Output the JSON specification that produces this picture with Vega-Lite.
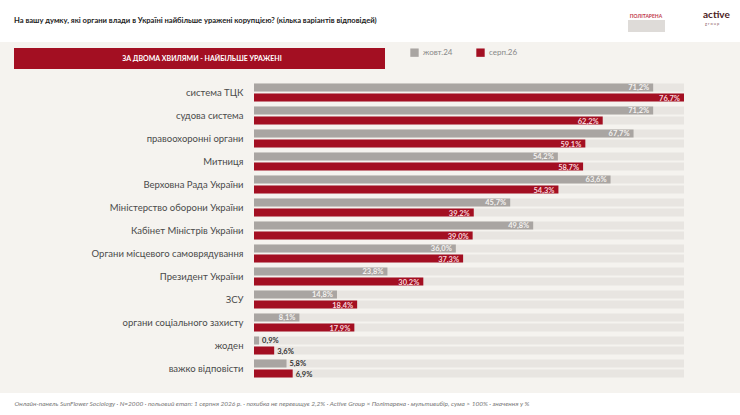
{
  "$schema": "https://vega.github.io/schema/vega-lite/v6.json",
  "autosize": "none",
  "padding": {"left": 254, "top": 81, "right": 56, "bottom": 35},
  "width": 430,
  "height": 299,
  "background": "#f5f3ef",
  "title": {
    "text": "На вашу думку, які органи влади в Україні найбільше уражені корупцією? (кілька варіантів відповідей)",
    "anchor": "start",
    "frame": "group",
    "dx": -240,
    "offset": -25,
    "font": "Lato",
    "fontSize": 7.6,
    "fontWeight": "bold",
    "color": "#222222"
  },
  "config": {
    "view": {"stroke": null},
    "font": "Lato"
  },
  "data": {
    "values": [
      {"org": "система ТЦК", "wave": "жовт.24", "value": 71.2},
      {"org": "система ТЦК", "wave": "серп.26", "value": 76.7},
      {"org": "судова система", "wave": "жовт.24", "value": 71.2},
      {"org": "судова система", "wave": "серп.26", "value": 62.2},
      {"org": "правоохоронні органи", "wave": "жовт.24", "value": 67.7},
      {"org": "правоохоронні органи", "wave": "серп.26", "value": 59.1},
      {"org": "Митниця", "wave": "жовт.24", "value": 54.2},
      {"org": "Митниця", "wave": "серп.26", "value": 58.7},
      {"org": "Верховна Рада України", "wave": "жовт.24", "value": 63.6},
      {"org": "Верховна Рада України", "wave": "серп.26", "value": 54.3},
      {"org": "Міністерство оборони України", "wave": "жовт.24", "value": 45.7},
      {"org": "Міністерство оборони України", "wave": "серп.26", "value": 39.2},
      {"org": "Кабінет Міністрів України", "wave": "жовт.24", "value": 49.8},
      {"org": "Кабінет Міністрів України", "wave": "серп.26", "value": 39.0},
      {"org": "Органи місцевого самоврядування", "wave": "жовт.24", "value": 36.0},
      {"org": "Органи місцевого самоврядування", "wave": "серп.26", "value": 37.3},
      {"org": "Президент України", "wave": "жовт.24", "value": 23.8},
      {"org": "Президент України", "wave": "серп.26", "value": 30.2},
      {"org": "ЗСУ", "wave": "жовт.24", "value": 14.8},
      {"org": "ЗСУ", "wave": "серп.26", "value": 18.4},
      {"org": "органи соціального захисту", "wave": "жовт.24", "value": 8.1},
      {"org": "органи соціального захисту", "wave": "серп.26", "value": 17.9},
      {"org": "жоден", "wave": "жовт.24", "value": 0.9},
      {"org": "жоден", "wave": "серп.26", "value": 3.6},
      {"org": "важко відповісти", "wave": "жовт.24", "value": 5.8},
      {"org": "важко відповісти", "wave": "серп.26", "value": 6.9}
    ]
  },
  "transform": [
    {"calculate": "replace(format(datum.value, '.1f'), '.', ',') + '%'", "as": "label"}
  ],
  "encoding": {
    "y": {
      "field": "org",
      "type": "nominal",
      "sort": null,
      "scale": {"paddingInner": 0.217, "paddingOuter": 0.1085},
      "axis": {
        "title": null,
        "ticks": false,
        "domain": false,
        "labelPadding": 11,
        "labelFont": "Lato",
        "labelFontSize": 9.5,
        "labelColor": "#4a4a4a",
        "labelLimit": 250
      }
    },
    "yOffset": {
      "field": "wave",
      "type": "nominal",
      "sort": ["жовт.24", "серп.26"],
      "scale": {"paddingInner": 0.2, "paddingOuter": 0}
    }
  },
  "layer": [
    {
      "data": {"values": [{}]},
      "mark": {"type": "rect", "x": -254, "x2": 486, "y": -81, "y2": -39, "color": "#ffffff"},
      "encoding": {"y": null, "yOffset": null}
    },
    {
      "data": {"values": [{}]},
      "mark": {"type": "rect", "x": -254, "x2": 486, "y": 312, "y2": 334, "color": "#ffffff"},
      "encoding": {"y": null, "yOffset": null}
    },
    {
      "mark": {"type": "bar", "color": "#e8e5e1"},
      "encoding": {
        "x": {"datum": 76.7, "type": "quantitative"}
      }
    },
    {
      "mark": {"type": "bar"},
      "encoding": {
        "x": {
          "field": "value",
          "type": "quantitative",
          "scale": {"domain": [0, 76.7], "nice": false},
          "axis": {
            "labels": false,
            "ticks": false,
            "domain": false,
            "grid": false,
            "zindex": 2,
            "title": "Онлайн-панель SunFlower Sociology · N=2000 · польовий етап: 1 серпня 2026 р. · похибка не перевищує 2,2% · Active Group × Політарена · мультивибір, сума > 100% · значення у %",
            "titleFont": "Lato",
            "titleFontSize": 6.5,
            "titleFontStyle": "italic",
            "titleFontWeight": "normal",
            "titleColor": "#777777",
            "titleAnchor": "start",
            "titleAlign": "left",
            "titleBaseline": "middle",
            "titleX": -240,
            "titleY": 23
          }
        },
        "color": {
          "field": "wave",
          "type": "nominal",
          "scale": {"domain": ["жовт.24", "серп.26"], "range": ["#a9a5a2", "#a30f22"]},
          "legend": {
            "orient": "none",
            "legendX": 156,
            "legendY": -33,
            "direction": "horizontal",
            "title": null,
            "symbolType": "square",
            "symbolSize": 70,
            "symbolStrokeWidth": 0,
            "labelFont": "Lato",
            "labelFontSize": 8,
            "labelColor": "#888888",
            "columnPadding": 23
          }
        }
      }
    },
    {
      "transform": [{"filter": "datum.value >= 8"}],
      "mark": {"type": "text", "align": "right", "baseline": "middle", "dx": -4, "dy": 1, "font": "Lato", "fontSize": 7.5, "fontWeight": "bold"},
      "encoding": {
        "x": {"field": "value", "type": "quantitative"},
        "text": {"field": "label"},
        "color": {
          "condition": {"test": "datum.wave === 'серп.26'", "value": "#f7d6db"},
          "value": "#f4f2f0"
        }
      }
    },
    {
      "transform": [{"filter": "datum.value < 8"}],
      "mark": {"type": "text", "align": "left", "baseline": "middle", "dx": 3, "dy": 1, "font": "Lato", "fontSize": 7.5, "fontWeight": "bold", "color": "#333333"},
      "encoding": {
        "x": {"field": "value", "type": "quantitative"},
        "text": {"field": "label"}
      }
    },
    {
      "data": {"values": [{}]},
      "mark": {"type": "rect", "x": -240, "x2": 131, "y": -33, "y2": -12, "color": "#a30f22"},
      "encoding": {"y": null, "yOffset": null}
    },
    {
      "data": {"values": [{}]},
      "mark": {"type": "text", "x": -52, "y": -22.5, "align": "center", "baseline": "middle", "text": "ЗА ДВОМА ХВИЛЯМИ - НАЙБІЛЬШЕ УРАЖЕНІ", "color": "#ffffff", "font": "Lato", "fontSize": 7, "fontWeight": "bold", "letterSpacing": 2.7},
      "encoding": {"y": null, "yOffset": null}
    },
    {
      "data": {"values": [{}]},
      "mark": {"type": "rect", "x": 374, "x2": 411, "y": -61, "y2": -49, "color": "#dedbd8"},
      "encoding": {"y": null, "yOffset": null}
    },
    {
      "data": {"values": [{}]},
      "mark": {"type": "text", "x": 392, "y": -65, "align": "center", "baseline": "middle", "text": "ПОЛІТАРЕНА", "color": "#c0394a", "font": "Lato", "fontSize": 5, "fontWeight": "bold"},
      "encoding": {"y": null, "yOffset": null}
    },
    {
      "data": {"values": [{}]},
      "mark": {"type": "text", "x": 449, "y": -66, "align": "left", "baseline": "middle", "text": "active", "color": "#4a1a22", "font": "Lato", "fontSize": 10, "fontWeight": "bold"},
      "encoding": {"y": null, "yOffset": null}
    },
    {
      "data": {"values": [{}]},
      "mark": {"type": "text", "x": 451, "y": -57, "align": "left", "baseline": "middle", "text": "g r o u p", "color": "#8a5a60", "font": "Lato", "fontSize": 4},
      "encoding": {"y": null, "yOffset": null}
    }
  ]
}
